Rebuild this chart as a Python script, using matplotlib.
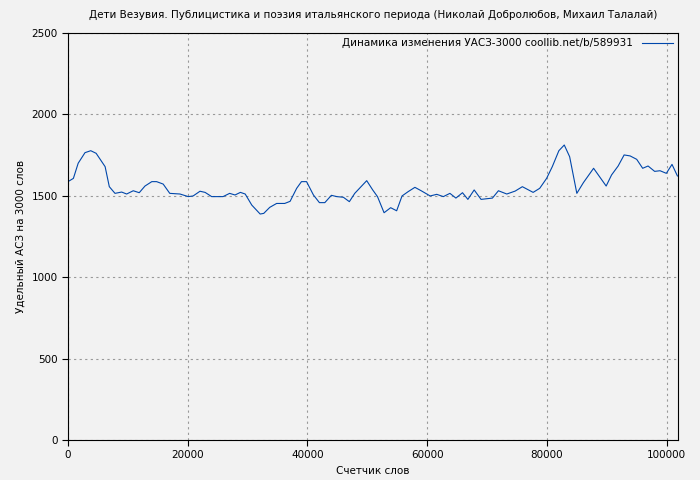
import matplotlib.pyplot as plt
import numpy as np

words = [0, 900, 1700, 2840, 3800, 4700, 5450, 6200, 6900, 7850, 8960, 9800, 10900, 11900,
         12860, 14000, 14800, 15900, 17000, 18700, 20100, 20900, 22050, 22900, 24000, 25900,
         27000, 27900, 28800, 29600, 30700, 32100, 32700, 33700, 34850, 36200, 37100, 38200,
         39000, 39850, 41000, 42000, 42900, 44000, 44900, 46000, 47000, 47900, 49900, 50900,
         51700, 52800, 53900, 54900, 55800, 56800, 57950, 59000, 60500, 61600, 62700, 63800,
         64800, 65900, 66800, 67850, 69000, 70900, 71900, 73300, 74700, 75900, 77700, 78800,
         79950, 80900, 82000, 82900, 83800, 85000, 86100, 87800, 89900, 90800, 91900, 92900,
         93900, 95000, 96000, 96900, 98000, 98900, 99950, 100900, 101800]
uasz = [1587, 1607, 1700, 1765, 1777, 1761, 1720, 1679, 1556, 1515, 1523, 1511, 1531, 1519,
        1560, 1587, 1587, 1572, 1515, 1511, 1495, 1499, 1528, 1521, 1495, 1495,
        1515, 1505, 1521, 1511, 1443, 1388, 1392, 1429, 1453, 1453, 1466, 1546,
        1587, 1587, 1505, 1458, 1458, 1503, 1495, 1491, 1464, 1515, 1593, 1536,
        1495, 1396, 1427, 1408, 1499, 1525, 1552, 1531, 1499, 1509, 1495, 1515,
        1486, 1519, 1478, 1536, 1478, 1486, 1531, 1511, 1529, 1556, 1521, 1546,
        1607, 1679, 1777, 1812, 1740, 1515, 1581, 1669, 1560, 1628, 1683, 1751,
        1745, 1724, 1669, 1683, 1650, 1654, 1638, 1693, 1622]

bg = "#f2f2f2"
fs = 7.5
fig = plt.figure(figsize=(7, 4.8), dpi=100, facecolor=bg)
ax = fig.add_axes([68 / 700, 40 / 480, 610 / 700, 407 / 480])
ax.set_facecolor(bg)
ax.plot(words, uasz, color="#0047ab", lw=0.8,
        label="Динамика изменения УАСЗ-3000 coollib.net/b/589931")
ax.set_xlim(0, 101900)
ax.set_ylim(0, 2500)
ax.set_xticks([0, 20000, 40000, 60000, 80000, 100000])
ax.set_yticks([0, 500, 1000, 1500, 2000, 2500])
ax.grid(True, color="#999999", linestyle=(0, (2, 3)), lw=0.8)
ax.tick_params(labelsize=fs, direction="out", length=4)
ax.set_xlabel("Счетчик слов", fontsize=fs)
ax.set_ylabel("Удельный АСЗ на 3000 слов", fontsize=fs)
ax.set_title("Дети Везувия. Публицистика и поэзия итальянского периода (Николай Добролюбов, Михаил Талалай)",
             fontsize=fs, pad=11)
leg = ax.legend(loc="upper right", fontsize=fs, frameon=False, markerfirst=False,
                handlelength=3, borderaxespad=0.1)
fig.savefig("out.png", dpi=100, facecolor=bg)
